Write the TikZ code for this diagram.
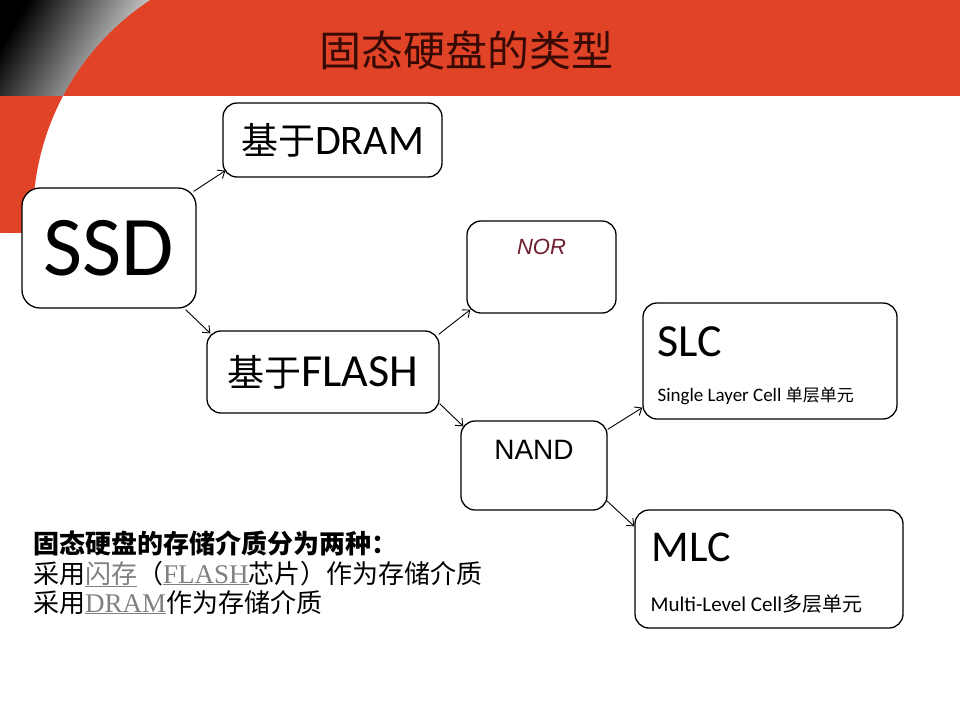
\documentclass[tikz,border=0pt]{standalone}
\usepackage{fontspec}
\setmainfont{Carlito}
\newfontfamily\zhfont{Noto Sans CJK SC}
\newfontfamily\arialfont{Liberation Sans}
\newfontfamily\romanfont{Liberation Serif}
\usetikzlibrary{arrows.meta,positioning}
\definecolor{slidered}{RGB}{225,67,38}
\definecolor{titledark}{RGB}{55,10,5}
\definecolor{norred}{RGB}{110,30,45}
\definecolor{linkgray}{RGB}{128,128,128}
\newcommand{\setfs}[1]{\fontsize{#1}{#1}\selectfont}
\newcommand{\zhtext}[2]{{\zhfont\setfs{#1}#2}}
\newcommand{\linkword}[1]{\textcolor{linkgray}{\underline{#1}}}

\begin{document}
\begin{tikzpicture}[
      x=1pt, y=-1pt,
      >={Straight Barb[length=6pt,width=10pt]},
      box/.style={draw, line width=1.3pt, rounded corners=14pt, fill=white, inner sep=0pt},
      link/.style={->, line width=0.9pt},
      subline/.style={anchor=base west, inner sep=0pt}
    ]
    \useasboundingbox (0,0) rectangle (960,720);
    \fill[white] (0,0) rectangle (960,720);
    % slide background
    \fill[slidered] (0,0) rectangle (960,96);
    \shade[top color=black, bottom color=gray!12, shading angle=60]
      (0,0) -- (150,0) arc[start angle=236.6, end angle=207.8, radius=260.4] -- (0,96) -- cycle;
    \fill[slidered] (0,96) -- (63,96) arc[start angle=207.8, end angle=176.6, radius=260.4] -- (0,233) -- cycle;
    \node[font=\zhfont\setfs{42}, text=titledark] (title) at (466,50) {固态硬盘的类型};

    \node[box, rounded corners=18pt, minimum width=174pt, minimum height=120pt, font=\setfs{85}] (ssd) at (109,248) {SSD};
    \node[box, minimum width=219pt, minimum height=74pt, font=\setfs{42}] (dram) at (332.5,140) {\zhtext{37}{基于}DRAM};
    \node[box, minimum width=232pt, minimum height=82pt, font=\setfs{46}] (flash) at (323,372) {\zhtext{37}{基于}FLASH};
    \node[box, minimum width=149pt, minimum height=92pt] (nor) at (541.5,267) {};
    \node[box, minimum width=146pt, minimum height=89pt] (nand) at (534,465.5) {};
    \node[box, minimum width=254pt, minimum height=116pt] (slc) at (770,361) {};
    \node[box, minimum width=268pt, minimum height=118pt] (mlc) at (769,569) {};

    \node[subline, anchor=base, font=\arialfont\itshape\setfs{22}, text=norred] (nortxt) at ([shift={(0,34)}]nor.north) {NOR};
    \node[subline, anchor=base, font=\arialfont\setfs{28}] (nandtxt) at ([shift={(0,39)}]nand.north) {NAND};
    \node[subline, font=\setfs{46}] (slctxt) at ([shift={(15,54)}]slc.north west) {SLC};
    \node[subline, font=\setfs{19}] (slcsub) at ([shift={(15,99)}]slc.north west) {Single Layer Cell \zhtext{17}{单层单元}};
    \node[subline, font=\setfs{44}] (mlctxt) at ([shift={(17,52)}]mlc.north west) {MLC};
    \node[subline, font=\setfs{21}] (mlcsub) at ([shift={(16,102)}]mlc.north west) {Multi-Level Cell\zhtext{20}{多层单元}};

    \draw[link] ([shift={(-3,4)}]ssd.north east) -- ([shift={(3,-7)}]dram.south west);
    \draw[link] ([shift={(-11,1)}]ssd.south east) -- ([shift={(4,3)}]flash.north west);
    \draw[link] ([shift={(-1,4)}]flash.north east) -- ([shift={(4,-4)}]nor.south west);
    \draw[link] ([shift={(0,-10)}]flash.south east) -- ([shift={(3,6)}]nand.north west);
    \draw[link] ([shift={(0,9)}]nand.north east) -- ([shift={(0,-12)}]slc.south west);
    \draw[link] ([shift={(-1,-10)}]nand.south east) -- ([shift={(0,17)}]mlc.north west);

    % notes under the tree
    \node[subline, font=\zhfont\bfseries\setfs{26}] (kinds) at (33,553) {固态硬盘的存储介质分为两种：};
    \node[subline, font=\zhfont\setfs{26}] (useflash) at (33,583) {采用\linkword{闪存}（\linkword{\romanfont\setfs{27}FLASH}芯片）作为存储介质};
    \node[subline, font=\zhfont\setfs{26}] (usedram) at (33,612) {采用\linkword{\romanfont\setfs{27}DRAM}作为存储介质};
  \end{tikzpicture}
\end{document}
